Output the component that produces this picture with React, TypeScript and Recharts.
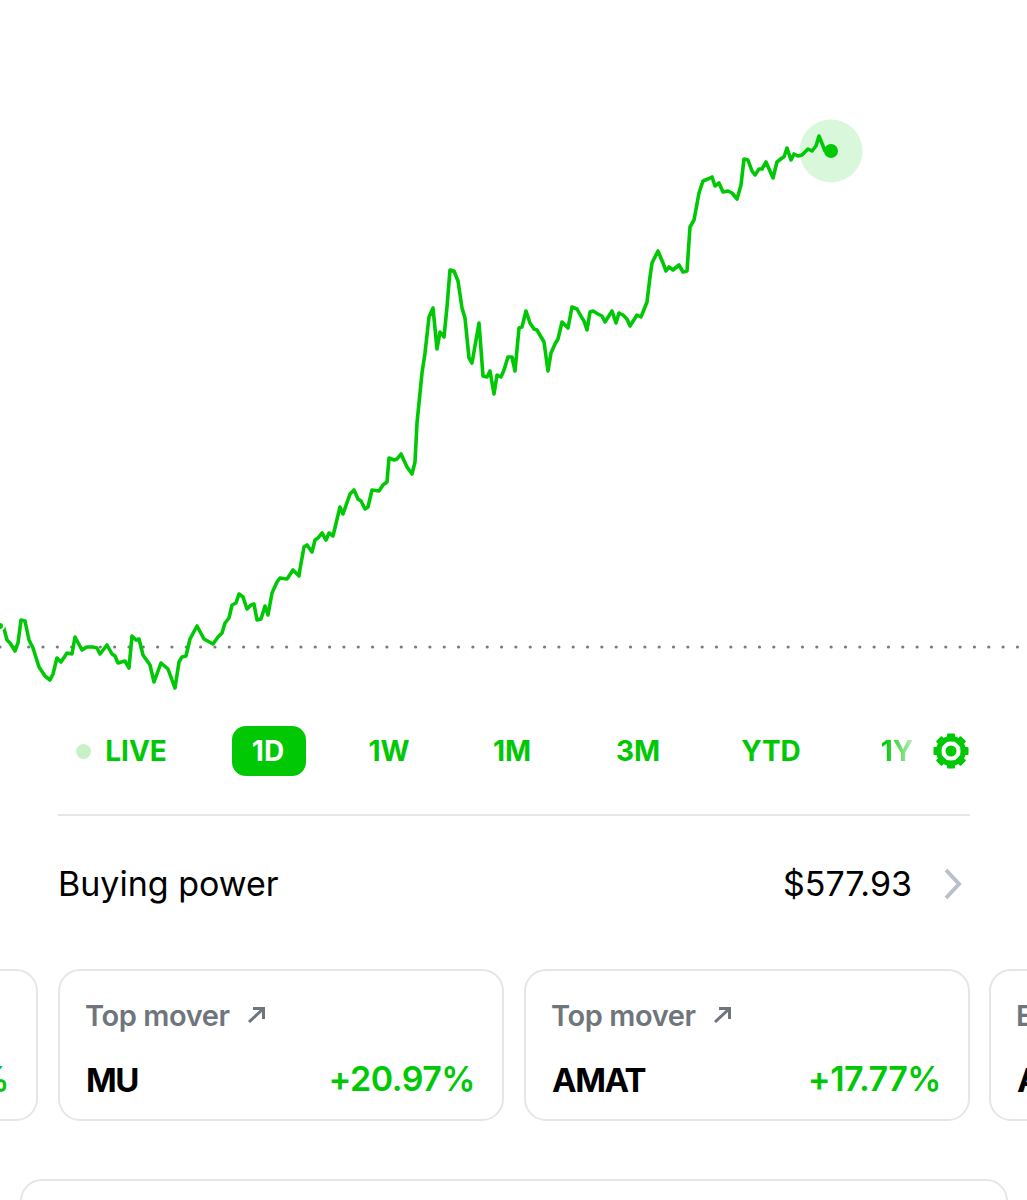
import React from "react"
import { LineChart, Line, XAxis, YAxis, ReferenceLine } from "recharts"

// session time (x) and gain against previous close
const times = [
  0, 3, 7, 10, 15, 18, 21, 25, 29, 33, 39, 45, 50, 53, 57, 61, 67, 72, 75, 82, 87, 93, 97, 100, 107, 112, 115, 118, 125,
  129, 132, 136, 139, 143, 150, 154, 161, 168, 172, 175, 179, 182, 186, 190, 197, 204, 213, 218, 222, 225, 229, 232,
  236, 239, 243, 247, 251, 254, 257, 261, 265, 268, 272, 277, 280, 287, 293, 299, 300, 304, 307, 312, 315, 318, 322,
  326, 329, 333, 340, 343, 350, 354, 358, 361, 365, 368, 372, 379, 383, 387, 389, 394, 397, 401, 407, 412, 415, 417,
  422, 425, 429, 433, 437, 440, 444, 447, 450, 454, 458, 462, 465, 469, 472, 479, 483, 487, 490, 494, 497, 501, 504,
  508, 512, 515, 519, 522, 526, 530, 534, 537, 544, 548, 551, 555, 558, 562, 568, 572, 577, 582, 584, 587, 590, 593,
  598, 602, 605, 612, 616, 619, 623, 627, 630, 637, 641, 647, 650, 652, 658, 663, 666, 669, 673, 679, 683, 687, 690,
  694, 699, 703, 708, 712, 715, 719, 723, 728, 732, 737, 741, 744, 748, 752, 755, 759, 762, 766, 773, 777, 782, 784,
  787, 791, 794, 798, 802, 808, 812, 816, 819, 825, 831,
]
const gains = [
  21, 22, 7, 4, -4, 4, 27, 26, 7, -1, -20, -29, -33, -27, -11, -15, -6, -7, 10, -3, 0, 0, -1, -7, 2, -7, -9, -16, -14,
  -21, 11, 7, 8, -8, -18, -35, -16, -22, -33, -41, -15, -10, -9, 8, 21, 8, 3, 10, 14, 24, 29, 42,
  44, 53, 50, 38, 42, 43, 27, 28, 41, 32, 54, 65, 69, 68, 77, 71, 78, 100, 102, 95, 107, 109, 114,
  107, 114, 111, 140, 133, 153, 157, 148, 146, 138, 140, 157, 156, 162, 165, 189, 187, 188, 193, 180, 173, 185, 224,
  274, 294, 330, 339, 298, 315, 310, 340, 377, 376, 366, 339, 329, 289, 284, 324, 271, 270, 276, 253, 272, 270, 277,
  290, 290, 276, 319, 320, 336, 324, 318, 317, 305, 276, 294, 303, 308, 325, 319, 340, 338, 329, 326, 317, 335, 336,
  333, 331, 325, 336, 324, 334, 332, 328, 321, 332, 330, 345, 370, 384, 396, 384, 376, 380, 377, 382, 375, 376, 420,
  427, 454, 466, 468, 470, 461, 464, 455, 456, 454, 448, 462, 488, 487, 476, 472, 478, 478, 485, 469, 485, 489, 490,
  499, 487, 493, 491, 492, 498, 496, 501, 511, 496, 496,
]

const ranges = ["LIVE", "1D", "1W", "1M", "3M", "YTD", "1Y"]
const rangeCenters = [136, 268, 389, 512, 638, 771, 897]
const activeRange = "1D"

const GREEN = "#00c805"
const CARD_BORDER = "#e4e7ea"

const data = times.map((t, i) => ({ t, gain: gains[i] }))

// latest point: see-through halo (the line stays visible under it) and a solid dot
const lastDot = (props: any) =>
  props.index === data.length - 1 ? (
    <g key={props.index}>
      <circle cx={props.cx} cy={props.cy} r={31.5} fill={GREEN} fillOpacity={0.15} />
      <circle cx={props.cx} cy={props.cy} r={7} fill={GREEN} />
    </g>
  ) : (
    <g key={props.index} />
  )

function Gear() {
  const teeth = [0, 45, 90, 135, 180, 225, 270, 315]
  return (
    <svg width={36} height={36} viewBox="0 0 36 36" style={{ position: "absolute", left: 933, top: 733 }}>
      {teeth.map((a) => (
        <rect key={a} x={14} y={0.5} width={8} height={8} rx={1} fill={GREEN} transform={`rotate(${a} 18 18)`} />
      ))}
      <circle cx={18} cy={18} r={12.5} fill="none" stroke={GREEN} strokeWidth={5} />
      <circle cx={18} cy={18} r={5.5} fill={GREEN} />
    </svg>
  )
}

function MoverArrow({ left }: { left: number }) {
  return (
    <svg width={22} height={20} viewBox="0 0 22 20" style={{ position: "absolute", left, top: 1005 }}>
      <path d="M3 17 L17 4 M7 3.5 H17.5 V14" fill="none" stroke="#6f757c" strokeWidth={3} />
    </svg>
  )
}

function Card({ left, width, label, symbol, change }: { left: number; width: number; label: string; symbol: string; change: string }) {
  return (
    <div
      style={{
        position: "absolute",
        left,
        top: 969,
        width,
        height: 152,
        boxSizing: "border-box",
        border: `2px solid ${CARD_BORDER}`,
        borderRadius: 22,
      }}
    >
      <div style={{ position: "absolute", left: 25, top: 27, fontSize: 29, lineHeight: "36px", fontWeight: 600, letterSpacing: -0.4, color: "#6f757c", whiteSpace: "nowrap" }}>
        {label}
      </div>
      <div style={{ position: "absolute", left: 26, top: 88, fontSize: 33, lineHeight: "42px", fontWeight: 700, letterSpacing: -1.5, color: "#000", whiteSpace: "nowrap" }}>
        {symbol}
      </div>
      <div style={{ position: "absolute", right: 27, top: 87, fontSize: 34, lineHeight: "42px", fontWeight: 600, letterSpacing: -0.5, color: GREEN, whiteSpace: "nowrap" }}>
        {change}
      </div>
    </div>
  )
}

export default function App() {
  return (
    <div
      style={{
        position: "absolute",
        left: 0,
        top: 0,
        width: 1027,
        height: 1200,
        overflow: "hidden",
        background: "#fff",
        fontFamily: "Inter, sans-serif",
      }}
    >
      <LineChart width={1027} height={700} data={data} margin={{ top: 0, right: 0, bottom: 0, left: 0 }}>
        <XAxis dataKey="t" type="number" domain={[0, 1027]} hide />
        <YAxis type="number" domain={[-53, 647]} hide />
        <ReferenceLine y={0} stroke="#777c82" strokeWidth={3.2} strokeDasharray="0 14.33" strokeLinecap="round" />
        <Line
          dataKey="gain"
          type="linear"
          stroke={GREEN}
          strokeWidth={3.6}
          strokeLinejoin="round"
          dot={lastDot}
          isAnimationActive={false}
        />
      </LineChart>

      <div style={{ position: "absolute", left: 76, top: 744, width: 15, height: 15, borderRadius: "50%", background: "#c9f1c8" }} />
      {activeRange && <div style={{ position: "absolute", left: 232, top: 726, width: 74, height: 50, borderRadius: 14, background: GREEN }} />}
      {ranges.map((r, i) => (
        <div
          key={r}
          style={{
            position: "absolute",
            left: rangeCenters[i],
            top: 731,
            transform: "translateX(-50%)",
            fontSize: 28,
            lineHeight: "40px",
            fontWeight: 700,
            whiteSpace: "nowrap",
            color: r === activeRange ? "#fff" : GREEN,
            ...(r === "1Y"
              ? {
                  background: `linear-gradient(90deg, ${GREEN} 10%, #b5edb5 95%)`,
                  WebkitBackgroundClip: "text",
                  backgroundClip: "text",
                  color: "transparent",
                }
              : {}),
          }}
        >
          {r}
        </div>
      ))}
      <Gear />

      <div style={{ position: "absolute", left: 58, top: 814, width: 912, height: 2, background: CARD_BORDER }} />

      <div style={{ position: "absolute", left: 58, top: 862, fontSize: 34, lineHeight: "44px", color: "#000" }}>Buying power</div>
      <div style={{ position: "absolute", right: 115, top: 862, fontSize: 34, lineHeight: "44px", color: "#000" }}>$577.93</div>
      <svg width={24} height={36} viewBox="0 0 24 36" style={{ position: "absolute", left: 941, top: 866 }}>
        <path d="M5 4 L18 18 L5 32" fill="none" stroke="#b9c0c7" strokeWidth={4} />
      </svg>

      <Card left={-400} width={438} label="" symbol="" change="%" />
      <Card left={58} width={446} label="Top mover" symbol="MU" change="+20.97%" />
      <MoverArrow left={246} />
      <Card left={524} width={446} label="Top mover" symbol="AMAT" change="+17.77%" />
      <MoverArrow left={712} />
      <Card left={989} width={446} label="Earnings" symbol="AAPL" change="" />

      <div
        style={{
          position: "absolute",
          left: 20,
          top: 1179,
          width: 988,
          height: 120,
          boxSizing: "border-box",
          border: `2px solid ${CARD_BORDER}`,
          borderRadius: 22,
        }}
      />
    </div>
  )
}
